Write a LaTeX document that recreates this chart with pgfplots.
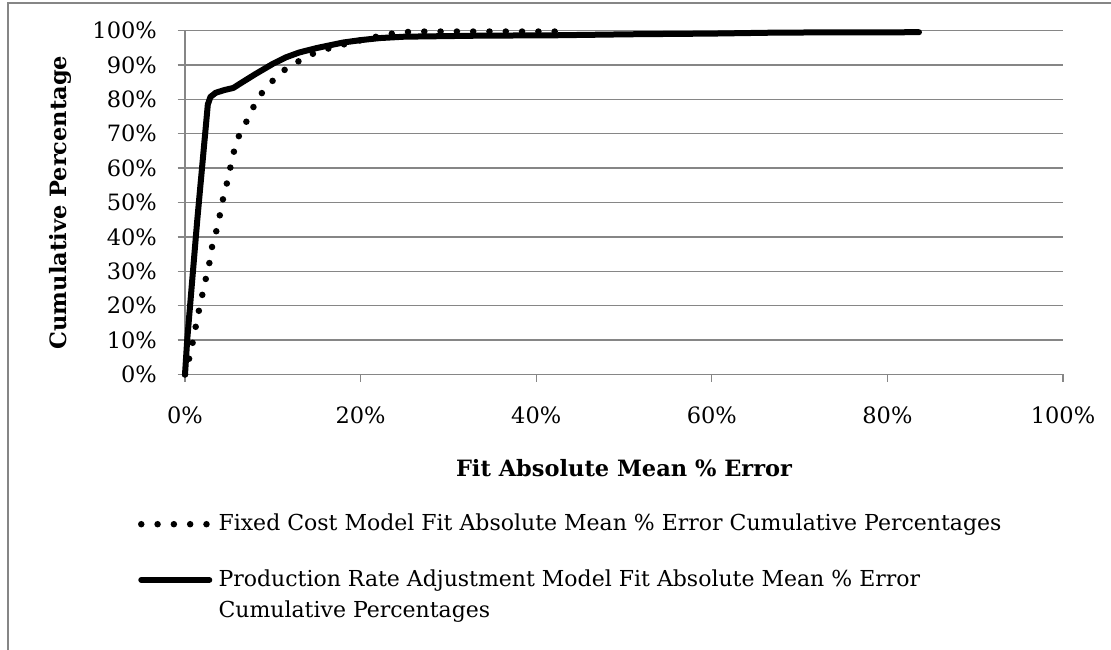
\documentclass[border=0pt]{standalone}
\usepackage{fontspec}
\setmainfont{DejaVu Serif}
\usepackage{pgfplots}
\pgfplotsset{compat=1.18}
\definecolor{gridgray}{RGB}{134,134,134}
\begin{document}
\begin{tikzpicture}[font=\fontsize{22.5}{31}\selectfont]
\path[use as bounding box] (0pt,0pt) rectangle (1111pt,650pt);
\draw[gridgray, line width=1.5pt] (8pt,0pt) -- (8pt,647pt) -- (1111pt,647pt);
\begin{axis}[
  scale only axis,
  width=878pt, height=344pt,
  at={(185pt,275.5pt)}, anchor=south west,
  xmin=0, xmax=100, ymin=0, ymax=100,
  axis x line*=bottom, axis y line*=left,
  axis line style={gridgray, line width=1.3pt, -},
  xtick={0,20,...,100}, ytick={0,10,...,100},
  tick align=outside, major tick length=7.5pt,
  tick style={gridgray, line width=1.3pt},
  ymajorgrids, grid style={gridgray, line width=1.3pt},
  xticklabel={\pgfmathprintnumber[assume math mode=true]{\tick}\%},
  yticklabel={\pgfmathprintnumber[assume math mode=true]{\tick}\%},
  xticklabel style={anchor=base, yshift=-42pt, inner sep=0pt},
  yticklabel style={anchor=east, xshift=-20.5pt, inner sep=0pt},
  xlabel={\bfseries Fit Absolute Mean \% Error},
  ylabel={\bfseries Cumulative Percentage},
  xlabel style={at={(axis description cs:0.5,-0.2718)}, anchor=center, inner sep=0pt},
  ylabel style={at={(axis description cs:-0.1424,0.5)}, anchor=center, rotate=0, inner sep=0pt},
  legend style={at={(axis description cs:-0.0535,-0.3997)}, anchor=north west,
    draw=none, fill=none, inner sep=0pt, outer sep=0pt, row sep=33.5pt,
    font=\fontsize{22}{31}\selectfont,
    cells={anchor=base west, inner sep=0pt},
    /tikz/every odd column/.append style={column sep=4pt}},
  legend image code/.code={\draw[#1] (0pt,6.5pt) -- (68pt,6.5pt);},
  clip=false,
]
\addplot[black, line width=6.5pt, line cap=round, dash pattern=on 0pt off 16.3pt] coordinates {
(0,0) (0.5,4.9) (0.9,9.6) (1.25,14.3) (1.6,18.8) (2.0,23.5) (2.4,28.2) (2.8,32.7)
(3.1,37.4) (3.6,42.0) (4.0,46.7) (4.35,51.3) (4.8,55.9) (5.2,60.6) (5.6,65.1)
(6.2,69.8) (7.1,74.0) (7.9,78.3) (8.9,82.4) (10.1,85.7) (11.5,88.9) (13.1,91.3)
(14.7,93.4) (16.5,94.9) (18.3,96.1) (20.1,97.2) (21.8,98.2) (23.6,99.1) (25.5,99.6)
(27.5,99.7) (42.7,99.7)
};
\addlegendentry{Fixed Cost Model Fit Absolute Mean \% Error Cumulative Percentages}
\addplot[black, line width=6pt, line join=round, line cap=round] coordinates {
(0,0) (0.25,10) (1.4,45) (2.6,78.5) (2.9,80.7) (3.5,81.9) (4.5,82.7) (5.5,83.3)
(6.3,84.6) (8,87.3) (10,90.3) (11.5,92.2) (13,93.6) (15,94.9) (16.5,95.7) (18,96.5)
(20,97.2) (22.2,97.8) (25,98.2) (33.6,98.5) (42,98.6) (50.7,98.9) (60,99.1)
(67.8,99.4) (83.6,99.5)
};
\addlegendentry{\parbox[t]{820pt}{Production Rate Adjustment Model Fit Absolute Mean \% Error\\Cumulative Percentages}}
\end{axis}
\end{tikzpicture}
\end{document}
